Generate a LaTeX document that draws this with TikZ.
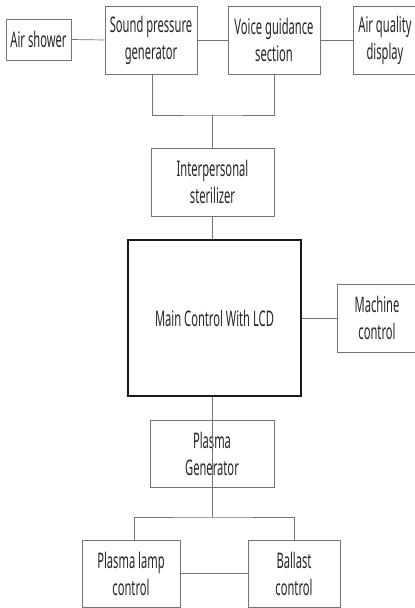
\documentclass[tikz,border=0pt]{standalone}
\usepackage{fontspec}
\setmainfont{Noto Sans}[FakeStretch=0.52]
\begin{document}
\begin{tikzpicture}[x=1pt,y=-1pt,
  box/.style={draw=black!55,line width=0.8pt,fill=white,inner sep=0pt,align=center,
    font=\fontsize{21.5}{27}\selectfont,text=black!85},
  mainbox/.style={box,draw=black!90,line width=1.1pt},
  link/.style={draw=black!55,line width=0.7pt}]
\clip (0,0) rectangle (415,608);
\fill[white] (0,0) rectangle (415,608);
\node[box,minimum width=65pt,minimum height=41pt] (air) at (38.5,39.5) {Air shower};
\node[box,minimum width=92pt,minimum height=68pt] (spg) at (151,40) {Sound pressure\\generator};
\node[box,minimum width=92pt,minimum height=68pt] (vgs) at (274,40) {Voice guidance\\section};
\node[box,minimum width=64pt,minimum height=68pt] (aqd) at (385,40) {Air quality\\display};
\node[box,minimum width=123pt,minimum height=68pt] (ips) at (212.5,182) {Interpersonal\\sterilizer};
\node[mainbox,minimum width=173pt,minimum height=156pt] (main) at (214.5,318) {Main Control With LCD};
\node[box,minimum width=80pt,minimum height=68pt] (mc) at (377,318) {Machine\\control};
\node[box,minimum width=124pt,minimum height=67pt] (pg) at (212,453.5) {Plasma\\Generator};
\node[box,minimum width=98pt,minimum height=67pt] (plc) at (131,573.5) {Plasma lamp\\control};
\node[box,minimum width=92pt,minimum height=67pt] (bal) at (294,573.5) {Ballast\\control};
\coordinate (j1) at (212,115);
\coordinate (j2) at (212,517);
\draw[link] (air.east) -- (spg.west);
\draw[link] (spg.east) -- (vgs.west);
\draw[link] (vgs.east) -- (aqd.west);
\draw[link] ([xshift=1pt]spg.south) |- (j1) -| (vgs.south);
\draw[link] (j1) -- (j1 |- ips.north);
\draw[link] (j1 |- ips.south) -- (j1 |- main.north);
\draw[link] (main.east) -- (mc.west);
\draw[link] (j1 |- main.south) -- (pg.south -| j1) ;
\draw[link] (j1 |- pg.south) -- (j2);
\draw[link] ([xshift=3pt]plc.north) |- (j2) -| (bal.north);
\draw[link] (plc.east) -- (bal.west);
\end{tikzpicture}
\end{document}
